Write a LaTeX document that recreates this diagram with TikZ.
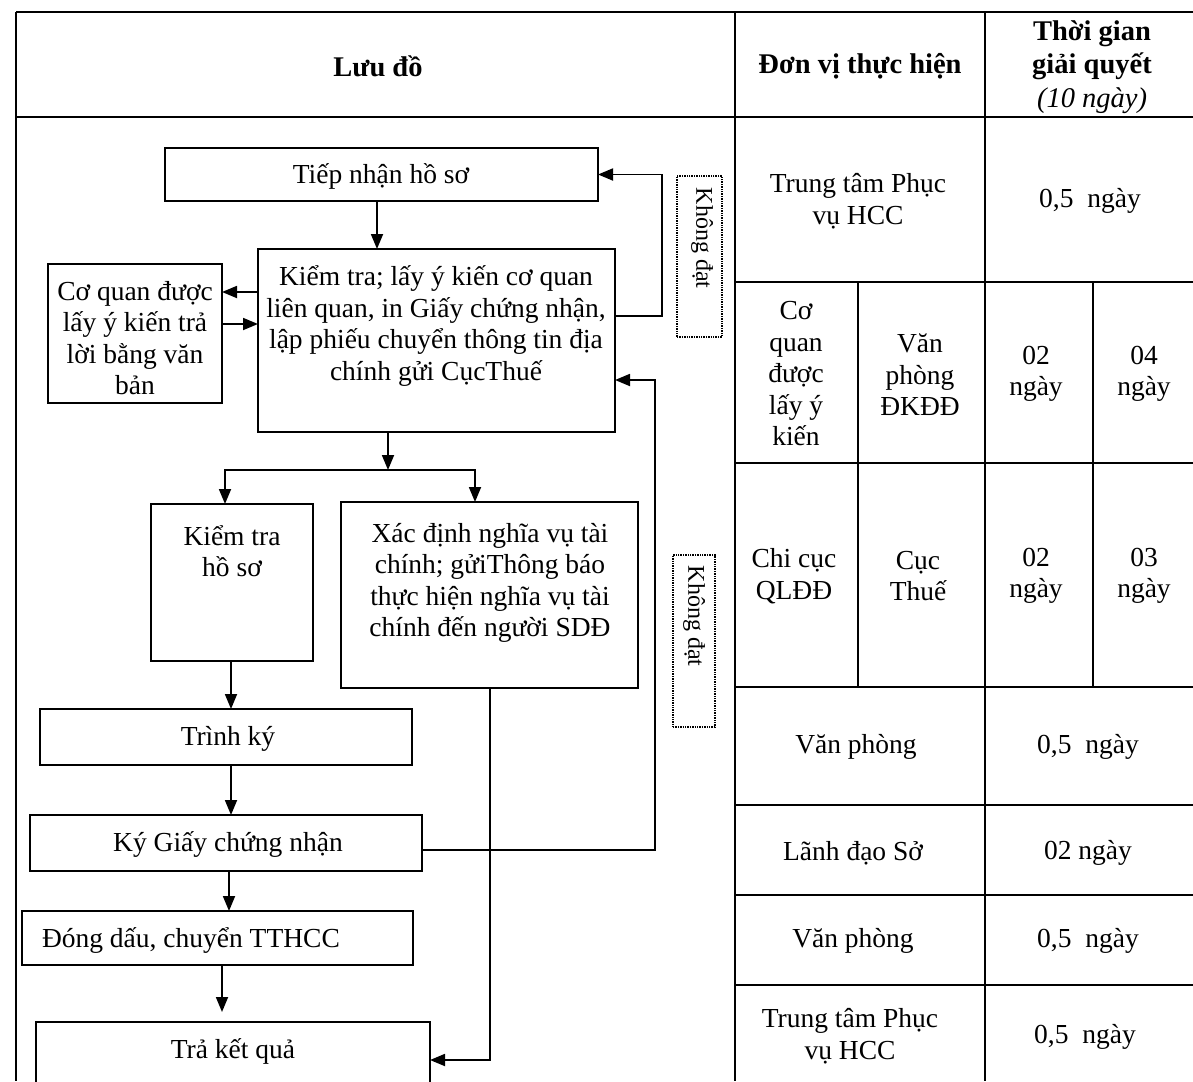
\documentclass[tikz,border=0pt]{standalone}
\usepackage{fontspec}
\setmainfont{Liberation Serif}
\usetikzlibrary{arrows.meta}
\begin{document}
\begin{tikzpicture}[x=1pt,y=-1pt,
  every node/.style={font=\fontsize{27.5}{31.5}\selectfont, inner sep=0pt, outer sep=0pt},
  box/.style={draw, line width=1.9pt, rectangle},
  dbox/.style={draw, line width=1.4pt, densely dotted, rectangle},
  txt/.style={align=center},
  kd/.style={rotate=-90, font=\fontsize{24}{28}\selectfont},
  hdr/.style={align=center, font=\fontsize{28.5}{33.5}\selectfont\bfseries},
  grid/.style={line width=1.9pt},
  conn/.style={line width=1.8pt},
  arr/.style={conn, -{Triangle[length=15pt,width=12pt]}},
]
\useasboundingbox (0,0) rectangle (1193,1081);
% ---------- table ----------
\begin{scope}
\clip (0,0) rectangle (1193,1081);
\draw[grid] (16,12) -- (1193,12);
\draw[grid] (16,117) -- (1193,117);
\draw[grid] (16,12) -- (16,1081);
\draw[grid] (735,12) -- (735,1081);
\draw[grid] (985,12) -- (985,1081);
\foreach \yy in {282,463,687,805,895,985} \draw[grid] (735,\yy) -- (1193,\yy);
\draw[grid] (858,282) -- (858,687);
\draw[grid] (1093,282) -- (1093,687);
\end{scope}
\node[hdr] (h1) at (378,66) {Lưu đồ};
\node[hdr] (h2) at (860,66) {Đơn vị thực hiện};
\node[hdr] (h3) at (1092,67) {Thời gian\\giải quyết\\{\mdseries\itshape (10 ngày)}};
\node[txt] (r1a) at (858,201) {Trung tâm Phục\\vụ HCC};
\node[txt] (r1b) at (1090,201) {0,5\ \ ngày};
\node[txt] (r2a) at (796,374) {Cơ\\quan\\được\\lấy ý\\kiến};
\node[txt] (r2b) at (920,375) {Văn\\phòng\\ĐKĐĐ};
\node[txt] (r2c) at (1036,374) {02\\ngày};
\node[txt] (r2d) at (1144,374) {04\\ngày};
\node[txt] (r3a) at (794,576) {Chi cục\\QLĐĐ};
\node[txt] (r3b) at (918,576) {Cục\\Thuế};
\node[txt] (r3c) at (1036,576) {02\\ngày};
\node[txt] (r3d) at (1144,576) {03\\ngày};
\node[txt] (r4a) at (856,747) {Văn phòng};
\node[txt] (r4b) at (1088,747) {0,5\ \ ngày};
\node[txt] (r5a) at (853,853) {Lãnh đạo Sở};
\node[txt] (r5b) at (1088,853) {02 ngày};
\node[txt] (r6a) at (853,941) {Văn phòng};
\node[txt] (r6b) at (1088,941) {0,5\ \ ngày};
\node[txt] (r7a) at (850,1036) {Trung tâm Phục\\vụ HCC};
\node[txt] (r7b) at (1085,1037) {0,5\ \ ngày};
% ---------- flowchart boxes ----------
\node[box, minimum width=433pt, minimum height=53pt] (tn) at (381.5,174.5) {};
\node (tnt) at (381,176) {Tiếp nhận hồ sơ};
\node[box, minimum width=357pt, minimum height=183pt] (kt) at (436.5,340.5) {};
\node[txt] (ktt) at (436,326) {Kiểm tra; lấy ý kiến cơ quan\\liên quan, in Giấy chứng nhận,\\lập phiếu chuyển thông tin địa\\chính gửi CụcThuế};
\node[box, minimum width=174pt, minimum height=139pt] (cq) at (135,333.5) {};
\node[txt] (cqt) at (135,338) {Cơ quan được\\lấy ý kiến trả\\lời bằng văn\\bản};
\node[box, minimum width=162pt, minimum height=157pt] (khs) at (232,582.5) {};
\node[txt] (khst) at (232,551) {Kiểm tra\\hồ sơ};
\node[box, minimum width=297pt, minimum height=186pt] (xd) at (489.5,595) {};
\node[txt] (xdt) at (490,583) {Xác định nghĩa vụ tài\\chính; gửiThông báo\\thực hiện nghĩa vụ tài\\chính đến người SDĐ};
\node[box, minimum width=372pt, minimum height=56pt] (tk) at (226,737) {};
\node (tkt) at (228,739) {Trình ký};
\node[box, minimum width=392pt, minimum height=56pt] (ky) at (226,843) {};
\node (kyt) at (228,844) {Ký Giấy chứng nhận};
\node[box, minimum width=391pt, minimum height=54pt] (dd) at (217.5,938) {};
\node[anchor=west] (ddt) at (42,940) {Đóng dấu, chuyển TTHCC};
\begin{scope}
\clip (0,0) rectangle (1193,1081);
\node[box, minimum width=394pt, minimum height=88pt] (tkq) at (233,1066) {};
\end{scope}
\node (tkqt) at (233,1051) {Trả kết quả};
\node[dbox, minimum width=45pt, minimum height=161pt] (kd1) at (699.5,256.5) {};
\node[kd] (kd1t) at (702,238) {Không đạt};
\node[dbox, minimum width=42pt, minimum height=172pt] (kd2) at (694,641) {};
\node[kd] (kd2t) at (694,616) {Không đạt};
% ---------- connectors ----------
\draw[arr] (tn.south -| 377,0) -- (kt.north -| 377,0);
\draw[arr] (kt.west |- 0,292) -- (cq.east |- 0,292);
\draw[arr] (cq.east |- 0,324) -- (kt.west |- 0,324);
\draw[arr] (kt.east |- 0,316) -| (tn.east -| 662,0) -- (tn.east);
\coordinate (j) at (388,470);
\draw[arr] (kt.south -| j) -- (j);
\draw[arr] (j) -| (khs.north -| 225,0);
\draw[arr] (j) -| (xd.north -| 475,0);
\draw[arr] (khs.south -| 231,0) -- (tk.north -| 231,0);
\draw[arr] (tk.south -| 231,0) -- (ky.north -| 231,0);
\draw[arr] (ky.east |- 0,850) -- (655,850) -- (655,380) -- (kt.east |- 0,380);
\draw[arr] (xd.south -| 490,0) -- (490,1060) -- (tkq.east |- 0,1060);
\draw[arr] (ky.south -| 229,0) -- (dd.north -| 229,0);
\draw[arr, shorten >=10pt] (dd.south -| 222,0) -- (tkq.north -| 222,0);
\end{tikzpicture}
\end{document}
